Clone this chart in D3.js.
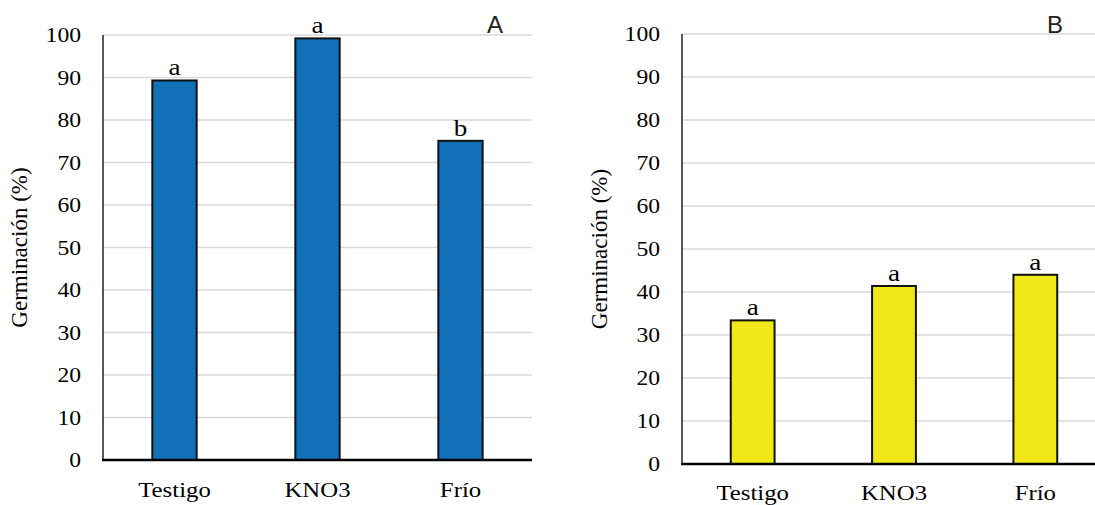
<!DOCTYPE html>
<meta charset="utf-8">
<script src="https://d3js.org/d3.v7.min.js"></script>
<style>
  body { margin: 0; background: #fff; }
</style>
<div id="chart"></div>
<script>

// data
var categories = ["Testigo", "KNO3", "Frío"];
var valuesA = [89.3, 99.2, 75.1];
var valuesB = [33.4, 41.4, 44.0];
var lettersA = ["a", "a", "b"];
var lettersB = ["a", "a", "a"];
var yTicks = [0, 10, 20, 30, 40, 50, 60, 70, 80, 90, 100];

var serifFam = "\"Times New Roman\"";

var svg = d3.select("#chart")
  .append("svg")
    .attr("width", 1095)
    .attr("height", 505);

// horizontal stretch of the original picture
var sx = 1.18;

function panel(opts) {
  var x = d3.scaleBand()
    .domain(categories)
    .range([opts.left, opts.right])
    .paddingInner(0.69)
    .paddingOuter(0.345);

  var y = d3.scaleLinear()
    .domain([0, 100])
    .range([opts.bottom, opts.top]);

  // gridlines
  svg.selectAll(".grid" + opts.tag)
    .data(yTicks.filter(function(d) { return d > 0; }))
    .enter().append("line")
      .attr("x1", opts.left)
      .attr("x2", opts.gridEnd)
      .attr("y1", function(d) { return y(d); })
      .attr("y2", function(d) { return y(d); })
      .attr("stroke", "#d9d9d9")
      .attr("stroke-width", 1.5);

  // y axis line (scale domain only, labels drawn as plain text below)
  svg.append("line")
    .attr("x1", opts.left).attr("x2", opts.left)
    .attr("y1", y(100)).attr("y2", y(0))
    .attr("stroke", "#000").attr("stroke-width", 1.3);

  // y tick labels
  svg.selectAll(".tick" + opts.tag)
    .data(yTicks)
    .enter().append("text")
      .attr("transform", function(d) {
        return "translate(" + (opts.left - 22) + "," + (y(d) + 7) + ") scale(" + sx + ",1)";
      })
      .attr("text-anchor", "end")
      .style("font-family", serifFam)
      .style("font-size", "20px")
      .text(function(d) { return d; });

  // bars
  svg.selectAll(".bar" + opts.tag)
    .data(opts.values)
    .enter().append("rect")
      .attr("x", function(d, i) { return x(categories[i]); })
      .attr("y", function(d) { return y(d); })
      .attr("width", x.bandwidth())
      .attr("height", function(d) { return y(0) - y(d); })
      .attr("fill", opts.color)
      .attr("stroke", "#111")
      .attr("stroke-width", 2);

  // letters over bars
  svg.selectAll(".lbl" + opts.tag)
    .data(opts.values)
    .enter().append("text")
      .attr("transform", function(d, i) {
        return "translate(" + (x(categories[i]) + x.bandwidth() / 2) + "," + (y(d) - 5) + ") scale(" + sx + ",1)";
      })
      .attr("text-anchor", "middle")
      .style("font-family", serifFam)
      .style("font-size", "23px")
      .text(function(d, i) { return opts.letters[i]; });

  // x axis line
  svg.append("line")
    .attr("x1", opts.left - 1)
    .attr("x2", opts.gridEnd)
    .attr("y1", y(0))
    .attr("y2", y(0))
    .attr("stroke", "#000")
    .attr("stroke-width", 2.5);

  // category labels
  svg.selectAll(".cat" + opts.tag)
    .data(categories)
    .enter().append("text")
      .attr("transform", function(d) {
        return "translate(" + (x(d) + x.bandwidth() / 2) + "," + opts.catY + ") scale(" + sx + ",1)";
      })
      .attr("text-anchor", "middle")
      .style("font-family", serifFam)
      .style("font-size", "21px")
      .text(function(d) { return d; });

  // y title
  svg.append("text")
    .attr("transform", "translate(" + opts.titleX + "," + (opts.top + opts.bottom) / 2 + ") rotate(-90)")
    .attr("text-anchor", "middle")
    .style("font-family", serifFam)
    .style("font-size", "23px")
    .text("Germinación (%)");

  // panel letter
  svg.append("text")
    .attr("x", opts.tagX)
    .attr("y", 33)
    .attr("text-anchor", "middle")
    .style("font-family", "\"Liberation Sans\"")
    .style("font-size", "24px")
    .style("fill", "#222")
    .text(opts.tag);
}

panel({
  left: 103, right: 532, gridEnd: 532, top: 35, bottom: 460,
  values: valuesA, letters: lettersA, color: "#1170b8",
  catY: 497, titleX: 27, tag: "A", tagX: 495
});

panel({
  left: 682, right: 1106, gridEnd: 1095, top: 34, bottom: 464,
  values: valuesB, letters: lettersB, color: "#f0e817",
  catY: 500, titleX: 607, tag: "B", tagX: 1055
});

</script>
